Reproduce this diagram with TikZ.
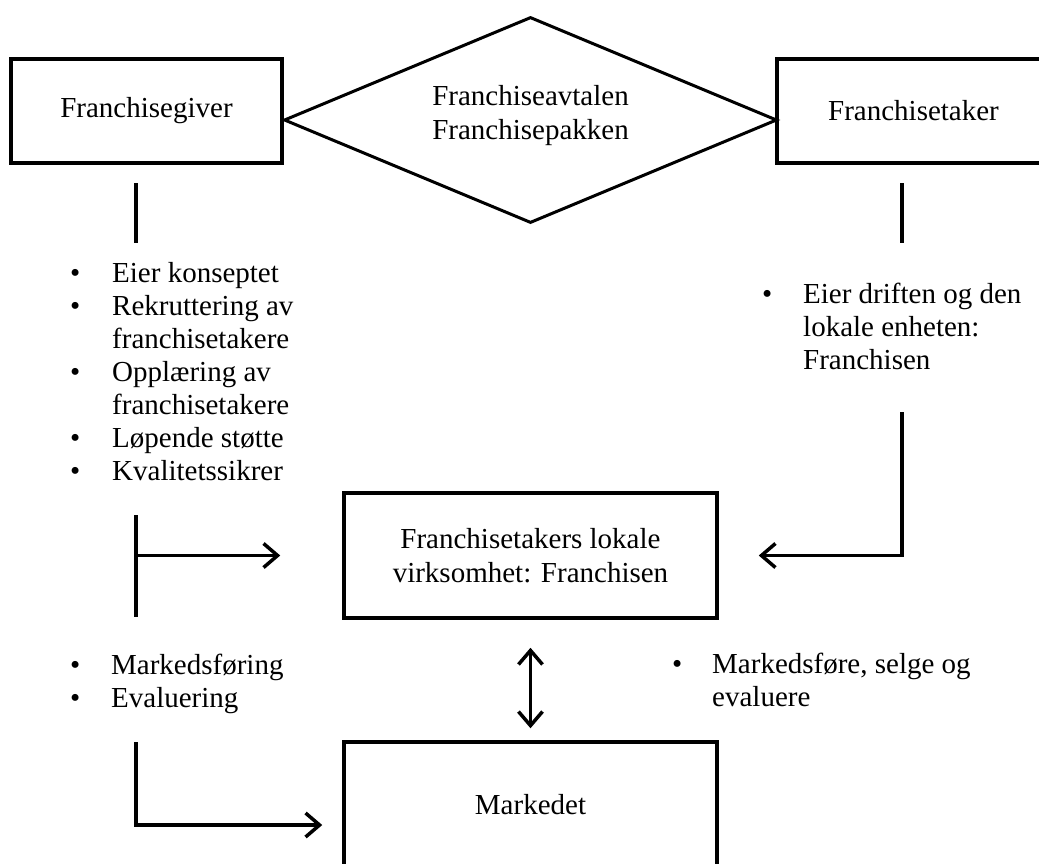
\documentclass[tikz,border=0pt]{standalone}
\usepackage{fontspec}
\setmainfont{Liberation Serif}
\usetikzlibrary{arrows.meta,shapes.geometric,positioning}

\begin{document}
\begin{tikzpicture}
  [
  x=1pt, y=-1pt,
  fboks/.style={draw, line width=3.5pt, align=center, inner sep=0pt, font=\fontsize{29}{34}\selectfont},
  fdiamant/.style={draw, diamond, line width=3pt, inner sep=0pt},
  ftekst/.style={align=center, inner sep=0pt, font=\fontsize{29}{34}\selectfont},
  fliste/.style={anchor=base west, inner sep=0pt, font=\fontsize{29}{33}\selectfont},
  flinje/.style={draw, line width=3.5pt},
  >={Straight Barb[length=14pt,width=24pt,line width=3.5pt]}
  ]
  \clip (0,0) rectangle (1039,863);
  \node[fboks, minimum width=271, minimum height=104] (giver) at (146.5,111) {Franchisegiver};
  \node[fdiamant, minimum width=493, minimum height=206] (avtale) at (530.5,120) {};
  \node[ftekst] (avtaletekst) at (530.5,116) {Franchiseavtalen\\Franchisepakken};
  \node[fboks, minimum width=273, minimum height=104] (taker) at (913.5,111) {Franchisetaker};
  \node[fboks, minimum width=373, minimum height=125] (lokal) at (530.5,555.5) {Franchisetakers lokale\\virksomhet: Franchisen};
  \node[fboks, minimum width=373, minimum height=126] (marked) at (530.5,805) {Markedet};

  \node[fliste] (giverliste) at (70,282) {\begin{tabular}[t]{@{}p{42pt}@{}l@{}}
    \textbullet & Eier konseptet\\
    \textbullet & Rekruttering av\\
                & franchisetakere\\
    \textbullet & Opplæring av\\
                & franchisetakere\\
    \textbullet & Løpende støtte\\
    \textbullet & Kvalitetssikrer
  \end{tabular}};
  \node[fliste] (takerliste) at (762,303) {\begin{tabular}[t]{@{}p{41pt}@{}l@{}}
    \textbullet & Eier driften og den\\
                & lokale enheten:\\
                & Franchisen
  \end{tabular}};
  \node[fliste] (giverliste2) at (70,674) {\begin{tabular}[t]{@{}p{41pt}@{}l@{}}
    \textbullet & Markedsføring\\
    \textbullet & Evaluering
  \end{tabular}};
  \node[fliste] (lokalliste) at (672,673) {\begin{tabular}[t]{@{}p{40pt}@{}l@{}}
    \textbullet & Markedsføre, selge og\\
                & evaluere
  \end{tabular}};

  \coordinate (g1) at (136,183);
  \coordinate (g2) at (136,243);
  \coordinate (t1) at (902,183);
  \coordinate (t2) at (902,243);
  \coordinate (gs) at (136,515);
  \coordinate (ge) at (136,617);
  \coordinate (gm) at (136,555.5);
  \coordinate (ts) at (902,412);
  \coordinate (ms) at (136,742);
  \coordinate (mh) at (136,825);

  \draw[flinje] (g1) -- (g2);
  \draw[flinje] (t1) -- (t2);
  \draw[flinje] (gs) -- (ge);
  \draw[flinje, ->, shorten >=62pt] (gm) -- (lokal);
  \draw[flinje, ->, shorten >=40pt] (ts) |- (lokal.east);
  \draw[flinje, <->, shorten <=28pt, shorten >=12pt] (lokal) -- (marked);
  \draw[flinje, ->, shorten >=20pt] (ms) -- (mh) -- (marked.west |- mh);
\end{tikzpicture}
\end{document}
